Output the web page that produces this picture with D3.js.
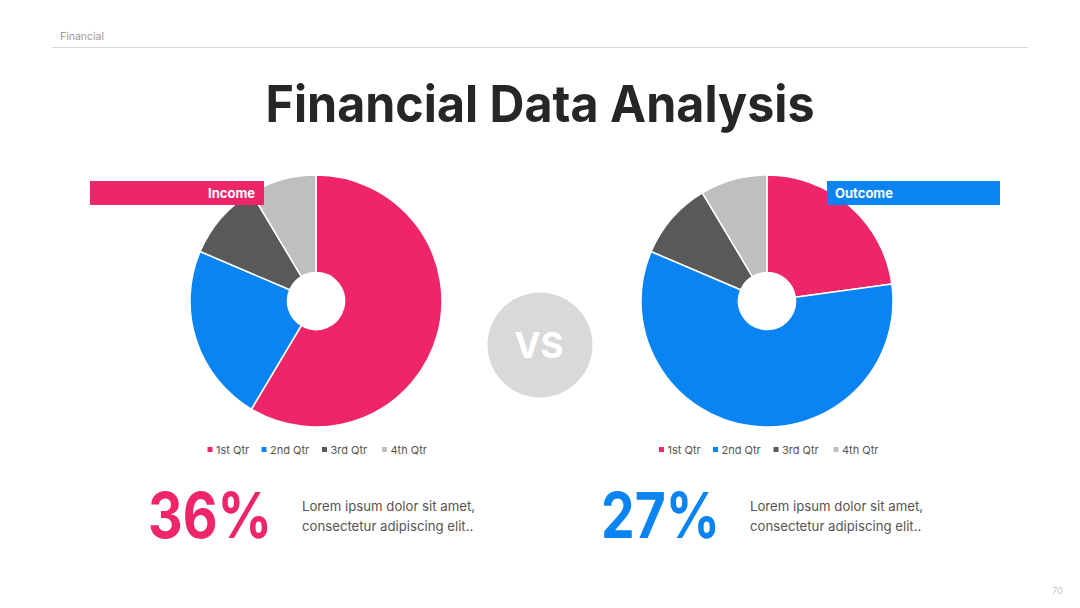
<!DOCTYPE html>
<html><head><meta charset="utf-8">
<script src="https://cdn.jsdelivr.net/npm/d3@7"></script>
<style>
html,body{margin:0;padding:0;background:#fff;}
svg{display:block;font-family:Inter,"Open Sans",sans-serif;}
</style></head>
<body>
<svg id="chart" width="1080" height="608"></svg>
<script>
const categories = ["1st Qtr", "2nd Qtr", "3rd Qtr", "4th Qtr"];
const incomeValues = [8.2, 3.2, 1.4, 1.2];
const outcomeValues = [3.2, 8.2, 1.4, 1.2];
const colors = ["#EE2567", "#0A84F2", "#595959", "#BFBFBF"];
const pieTitles = ["Income", "Outcome"];
const bigPercents = ["36%", "27%"];
const bodyText = ["Lorem ipsum dolor sit amet,", "consectetur adipiscing elit.."];

const svg = d3.select("#chart");

// header
svg.append("text").attr("x", 60).attr("y", 40).attr("font-size", 10.5).attr("fill", "#9a9a9a").text("Financial");
svg.append("line").attr("x1", 52).attr("x2", 1028).attr("y1", 47.5).attr("y2", 47.5).attr("stroke", "#d9d9d9").attr("stroke-width", 1);
svg.append("text").attr("x", 1063).attr("y", 594).attr("text-anchor", "end").attr("font-size", 9).attr("fill", "#c4c4c4").text("70");

// title
svg.append("text").attr("x", 540).attr("y", 122).attr("text-anchor", "middle")
  .attr("font-size", 51).attr("font-weight", 700).attr("fill", "#262626")
  .attr("textLength", 549).attr("lengthAdjust", "spacingAndGlyphs")
  .text("Financial Data Analysis");

const color = d3.scaleOrdinal().domain(categories).range(colors);
const pie = d3.pie().sort(null).value(d => d.v);
const arc = d3.arc().innerRadius(28.5).outerRadius(126);

function drawPie(cx, cy, values) {
  const g = svg.append("g").attr("transform", `translate(${cx},${cy})`);
  const data = categories.map((c, i) => ({ c, v: values[i] }));
  g.selectAll("path").data(pie(data)).join("path")
    .attr("d", arc).attr("fill", d => color(d.data.c))
    .attr("stroke", "#fff").attr("stroke-width", 1.5).attr("stroke-linejoin", "round");
}
drawPie(316, 301, incomeValues);
drawPie(767, 301, outcomeValues);

// title boxes
svg.append("rect").attr("x", 90).attr("y", 181).attr("width", 174).attr("height", 24).attr("fill", colors[0]);
svg.append("text").attr("x", 255).attr("y", 197.5).attr("text-anchor", "end").attr("font-size", 13).attr("font-weight", 700).attr("fill", "#fff").text(pieTitles[0]);
svg.append("rect").attr("x", 827).attr("y", 181).attr("width", 173).attr("height", 24).attr("fill", colors[1]);
svg.append("text").attr("x", 835).attr("y", 197.5).attr("font-size", 13).attr("font-weight", 700).attr("fill", "#fff").text(pieTitles[1]);

// legends
function legend(x0, y0) {
  const offsets = [0, 54, 114.5, 174.5];
  const g = svg.append("g").attr("transform", `translate(${x0},${y0})`);
  const it = g.selectAll("g").data(categories).join("g").attr("transform", (d, i) => `translate(${offsets[i]},0)`);
  it.append("rect").attr("x", 0).attr("y", -3).attr("width", 5).attr("height", 5).attr("fill", d => color(d));
  it.append("text").attr("x", 8.5).attr("y", 3.8).attr("font-size", 11).attr("fill", "#555").text(d => d);
}
legend(207.5, 450);
legend(659, 450);

// VS circle
svg.append("circle").attr("cx", 540).attr("cy", 345).attr("r", 52.5).attr("fill", "#D9D9D9");
svg.append("text").attr("x", 539).attr("y", 358).attr("text-anchor", "middle").attr("font-size", 35).attr("font-weight", 700).attr("fill", "#fff").text("VS");

// big percents
svg.append("text").attr("x", 148).attr("y", 538).attr("font-size", 63).attr("font-weight", 700).attr("fill", colors[0])
  .attr("textLength", 124).attr("lengthAdjust", "spacingAndGlyphs").text(bigPercents[0]);
svg.append("text").attr("x", 601).attr("y", 538).attr("font-size", 63).attr("font-weight", 700).attr("fill", colors[1])
  .attr("textLength", 119).attr("lengthAdjust", "spacingAndGlyphs").text(bigPercents[1]);

function body(x) {
  const t = svg.append("text").attr("font-size", 13.2).attr("fill", "#555");
  bodyText.forEach((s, i) => t.append("tspan").attr("x", x).attr("y", 511 + i * 20).text(s));
}
body(302);
body(750);
</script>
</body></html>
